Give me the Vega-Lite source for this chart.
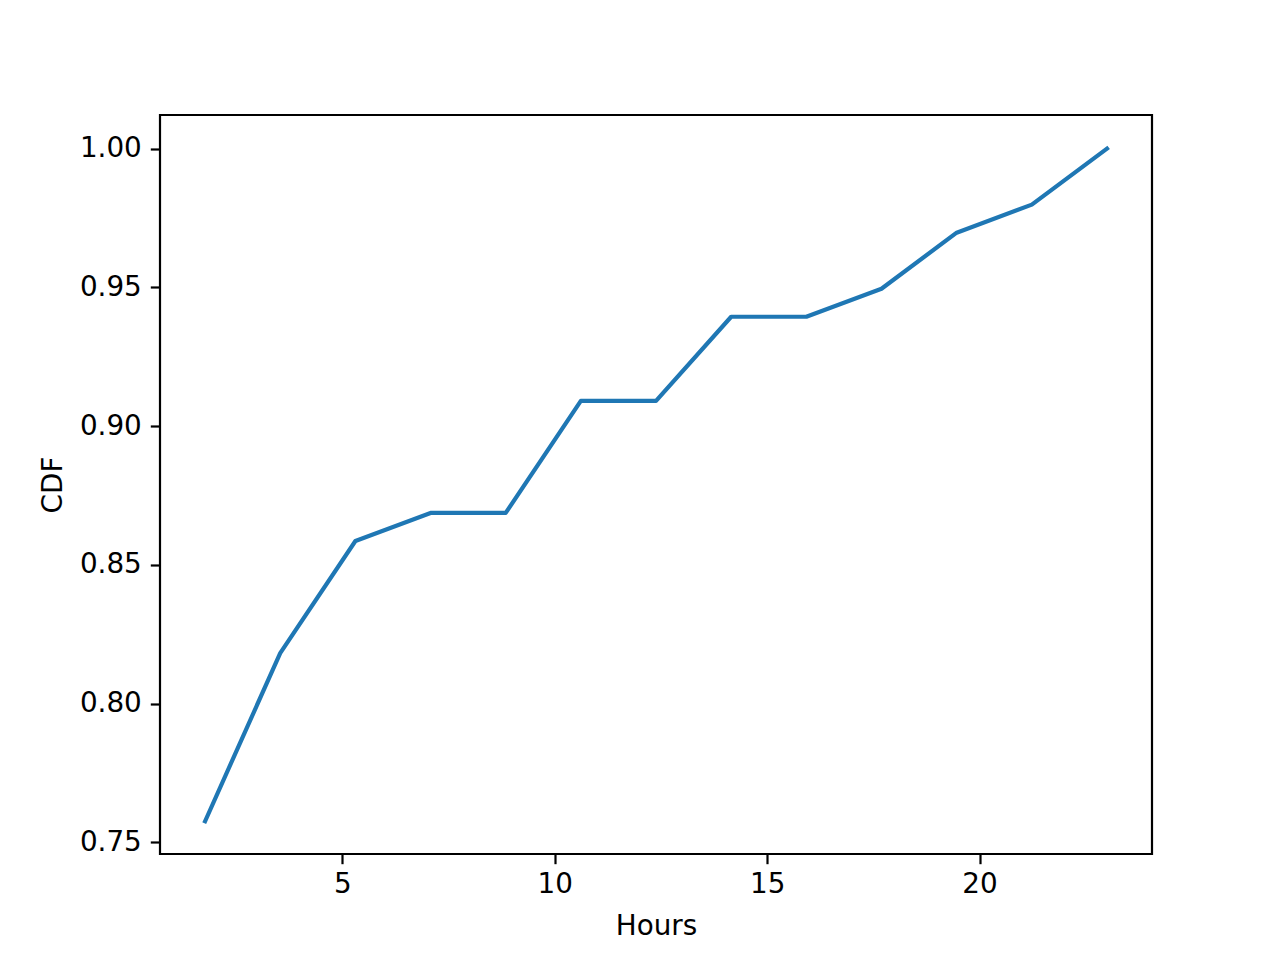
{
  "$schema": "https://vega.github.io/schema/vega-lite/v6.json",
  "autosize": "none",
  "width": 992,
  "height": 739,
  "padding": {"left": 160, "top": 115, "right": 128, "bottom": 106},
  "background": "white",
  "data": {
    "values": [
      {"hours": 1.769, "cdf": 0.7576},
      {"hours": 3.538, "cdf": 0.8182},
      {"hours": 5.308, "cdf": 0.8586},
      {"hours": 7.077, "cdf": 0.8687},
      {"hours": 8.846, "cdf": 0.8687},
      {"hours": 10.615, "cdf": 0.9091},
      {"hours": 12.385, "cdf": 0.9091},
      {"hours": 14.154, "cdf": 0.9394},
      {"hours": 15.923, "cdf": 0.9394},
      {"hours": 17.692, "cdf": 0.9495},
      {"hours": 19.462, "cdf": 0.9697},
      {"hours": 21.231, "cdf": 0.9798},
      {"hours": 23.0, "cdf": 1.0}
    ]
  },
  "mark": {"type": "line", "color": "#1f77b4", "strokeWidth": 4.2, "strokeCap": "square", "strokeJoin": "round"},
  "encoding": {
    "x": {
      "field": "hours", "type": "quantitative",
      "scale": {"domain": [0.708, 24.06], "nice": false, "zero": false},
      "axis": {"values": [5, 10, 15, 20], "format": "d", "title": "Hours", "labelPadding": 7, "titlePadding": 14}
    },
    "y": {
      "field": "cdf", "type": "quantitative",
      "scale": {"domain": [0.7458, 1.0121], "nice": false, "zero": false},
      "axis": {"values": [0.75, 0.8, 0.85, 0.9, 0.95, 1.0], "format": ".2f", "title": "CDF", "labelPadding": 9, "titlePadding": 12}
    }
  },
  "config": {
    "view": {"stroke": "black", "strokeWidth": 2.2},
    "axis": {
      "domain": false,
      "grid": false,
      "ticks": true,
      "tickSize": 9.7,
      "tickWidth": 2.2,
      "tickColor": "black",
      "labelFont": "DejaVu Sans",
      "labelFontSize": 27.8,
      "labelColor": "black",
      "titleFont": "DejaVu Sans",
      "titleFontSize": 27.8,
      "titleFontWeight": "normal",
      "titleColor": "black"
    }
  }
}
